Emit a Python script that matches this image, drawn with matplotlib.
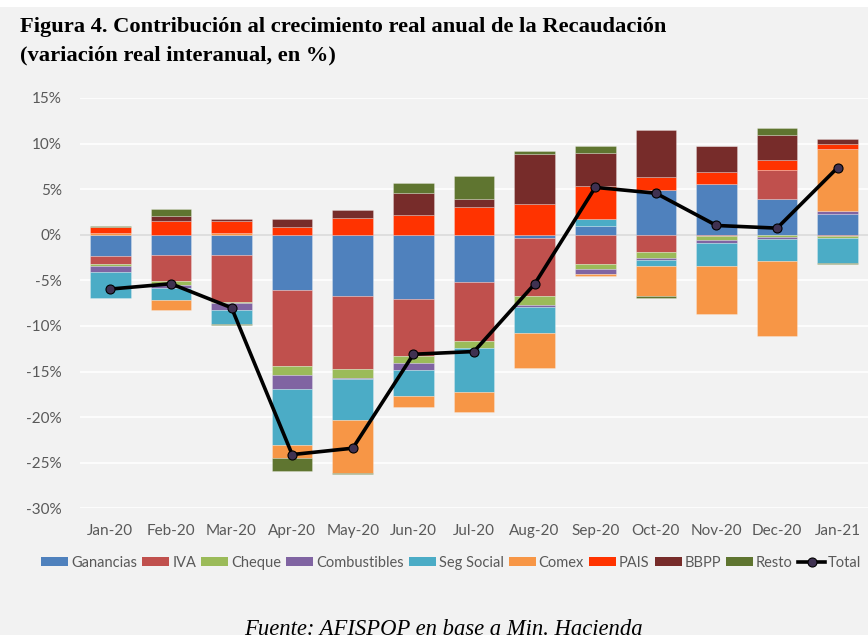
import numpy as np
import matplotlib.pyplot as plt
from matplotlib.patches import Rectangle
from matplotlib.lines import Line2D

months = ["Jan-20", "Feb-20", "Mar-20", "Apr-20", "May-20", "Jun-20", "Jul-20",
          "Aug-20", "Sep-20", "Oct-20", "Nov-20", "Dec-20", "Jan-21"]

ganancias = [-2.33, -2.26, -2.19, -6.10, -6.72, -7.00, -5.15, -0.40, 0.99, 4.96, 5.55, 3.94, 2.26]
iva = [-0.84, -2.80, -5.14, -8.28, -7.96, -6.24, -6.50, -6.28, -3.20, -1.93, -0.18, 3.14, -0.15]
cheque = [-0.29, -0.44, -0.18, -1.02, -0.99, -0.84, -0.80, -0.99, -0.51, -0.66, -0.44, -0.29, -0.18]
combustibles = [-0.58, -0.36, -0.69, -1.46, -0.15, -0.72, 0.00, -0.29, -0.62, -0.18, -0.33, -0.18, 0.36]
seg_social = [-2.88, -1.28, -1.60, -6.20, -4.49, -2.85, -4.77, -2.81, 0.73, -0.69, -2.45, -2.45, -2.77]
comex = [0.25, -1.09, 0.25, -1.39, -5.80, -1.24, -2.22, -3.87, -0.15, -3.25, -5.29, -8.14, 6.75]
pais = [0.55, 1.46, 1.31, 0.80, 1.79, 2.12, 3.03, 3.39, 3.65, 1.39, 1.31, 1.09, 0.55]
bbpp = [0.00, 0.62, 0.22, 0.98, 0.95, 2.48, 0.91, 5.47, 3.65, 5.11, 2.85, 2.74, 0.58]
resto = [0.15, 0.73, -0.07, -1.46, -0.15, 1.13, 2.55, 0.36, 0.73, -0.18, 0.00, 0.84, -0.07]
total = [-5.95, -5.37, -8.00, -24.1, -23.4, -13.1, -12.8, -5.40, 5.20, 4.56, 1.02, 0.73, 7.37]

series = [
    ("Ganancias", ganancias, "#4F81BD"),
    ("IVA", iva, "#C0504D"),
    ("Cheque", cheque, "#9BBB59"),
    ("Combustibles", combustibles, "#8064A2"),
    ("Seg Social", seg_social, "#4BACC6"),
    ("Comex", comex, "#F79646"),
    ("PAIS", pais, "#FF3300"),
    ("BBPP", bbpp, "#772C2A"),
    ("Resto", resto, "#5F7530"),
]

BG = "#F2F2F2"
TXT = "#595959"

fig = plt.figure(figsize=(8.68, 6.35), dpi=100, facecolor=BG)
fig.patches.append(Rectangle((0, 0.989), 1, 0.011, transform=fig.transFigure,
                             facecolor="white", edgecolor="none", zorder=0))

ax = fig.add_axes([0.0922, 0.1994, 0.9078, 0.6463])
ax.set_facecolor(BG)

x = np.arange(len(months))
pos_base = np.zeros(len(months))
neg_base = np.zeros(len(months))
handles = []
for name, vals, color in series:
    vals = np.array(vals)
    bottoms = np.where(vals >= 0, pos_base, neg_base)
    ax.bar(x, vals, width=0.67, bottom=bottoms, color=color,
           edgecolor=(1, 1, 1, 0.35), linewidth=0.5, zorder=2)
    pos_base = pos_base + np.where(vals > 0, vals, 0)
    neg_base = neg_base + np.where(vals < 0, vals, 0)
    handles.append(Rectangle((0, 0), 1, 1, facecolor=color, edgecolor="none", label=name))

ax.plot(x, total, color="black", linewidth=2.6, marker="o", markersize=6.5,
        markerfacecolor="#3F3151", markeredgecolor="black", markeredgewidth=0.8, zorder=4)
handles.append(Line2D([0], [0], color="black", linewidth=2.6, marker="o", markersize=6.5,
                      markerfacecolor="#3F3151", markeredgecolor="black",
                      markeredgewidth=0.8, label="Total"))

ax.set_xlim(-0.5, len(months) - 0.5)
ax.set_ylim(-30, 15)
yt = np.arange(-30, 16, 5)
ax.set_yticks(yt)
ax.set_yticklabels([f"{v}%" for v in yt])
ax.set_xticks(x)
ax.set_xticklabels(months)
ax.tick_params(length=0, labelsize=11, labelcolor=TXT)
ax.tick_params(axis="y", pad=13)
ax.tick_params(axis="x", pad=11)
for lab in ax.get_xticklabels() + ax.get_yticklabels():
    lab.set_fontfamily("Lato")
for s in ax.spines.values():
    s.set_visible(False)
for v in yt:
    ax.axhline(v, color="white", linewidth=1.2, zorder=1)
ax.axhline(0, color="#D9D9D9", linewidth=1.2, zorder=1.5)

fig.legend(handles=handles, loc="center", bbox_to_anchor=(0.52, 0.1134), ncol=10,
           frameon=False, handlelength=1.85, handleheight=0.6, handletextpad=0.2,
           columnspacing=0.35, borderpad=0, prop={"family": "Lato", "size": 10.5},
           labelcolor=TXT)

fig.text(0.023, 0.9496, "Figura 4. Contribución al crecimiento real anual de la Recaudación",
         fontfamily="Liberation Serif", fontweight="bold", fontsize=16.2, va="baseline")
fig.text(0.023, 0.904, "(variación real interanual, en %)",
         fontfamily="Liberation Serif", fontweight="bold", fontsize=16.2, va="baseline")
fig.text(0.511, 0.0, "Fuente: AFISPOP en base a Min. Hacienda",
         fontfamily="Liberation Serif", style="italic", fontsize=16.3, ha="center", va="baseline")

fig.savefig("out.png", dpi=100, facecolor=BG)
